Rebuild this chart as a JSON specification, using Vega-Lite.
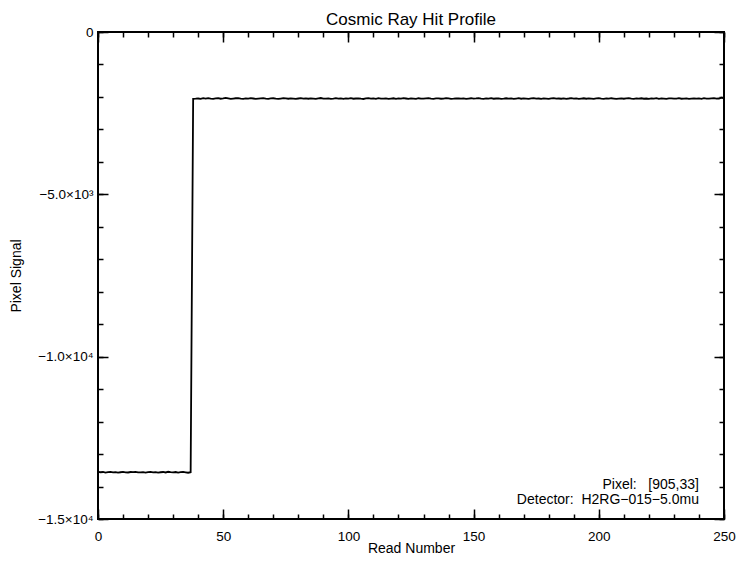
{
  "$schema": "https://vega.github.io/schema/vega-lite/v6.json",
  "width": 626,
  "height": 487,
  "autosize": "none",
  "padding": {"left": 98, "top": 32, "right": 14, "bottom": 42},
  "background": "white",
  "title": {"text": "Cosmic Ray Hit Profile", "fontSize": 17, "font": "Liberation Sans", "fontWeight": "normal", "offset": -4, "color": "black"},
  "datasets": {
    "sig": [
      {"r":0,"s":-13545},{"r":1,"s":-13560},{"r":2,"s":-13552},{"r":3,"s":-13570},{"r":4,"s":-13558},{"r":5,"s":-13548},{"r":6,"s":-13565},{"r":7,"s":-13555},{"r":8,"s":-13572},{"r":9,"s":-13560},
      {"r":10,"s":-13550},{"r":11,"s":-13562},{"r":12,"s":-13568},{"r":13,"s":-13553},{"r":14,"s":-13559},{"r":15,"s":-13547},{"r":16,"s":-13566},{"r":17,"s":-13561},{"r":18,"s":-13555},{"r":19,"s":-13570},
      {"r":20,"s":-13558},{"r":21,"s":-13549},{"r":22,"s":-13563},{"r":23,"s":-13556},{"r":24,"s":-13571},{"r":25,"s":-13560},{"r":26,"s":-13552},{"r":27,"s":-13567},{"r":28,"s":-13545},{"r":29,"s":-13558},
      {"r":30,"s":-13564},{"r":31,"s":-13553},{"r":32,"s":-13569},{"r":33,"s":-13557},{"r":34,"s":-13550},{"r":35,"s":-13562},{"r":36,"s":-13575},{"r":37,"s":-13560},
      {"r":38,"s":-2060},{"r":39,"s":-2055},{"r":40,"s":-2048},{"r":41,"s":-2062},{"r":42,"s":-2040},{"r":43,"s":-2052},{"r":44,"s":-2035},{"r":45,"s":-2050},{"r":46,"s":-2058},{"r":47,"s":-2042},
      {"r":48,"s":-2038},{"r":49,"s":-2055},{"r":50,"s":-2047},{"r":51,"s":-2030},{"r":52,"s":-2045},{"r":53,"s":-2060},{"r":54,"s":-2050},{"r":55,"s":-2041},{"r":56,"s":-2036},{"r":57,"s":-2049},
      {"r":58,"s":-2057},{"r":59,"s":-2044},{"r":60,"s":-2052},{"r":61,"s":-2039},{"r":62,"s":-2048},{"r":63,"s":-2062},{"r":64,"s":-2054},{"r":65,"s":-2045},{"r":66,"s":-2035},{"r":67,"s":-2050},
      {"r":68,"s":-2058},{"r":69,"s":-2047},{"r":70,"s":-2041},{"r":71,"s":-2053},{"r":72,"s":-2060},{"r":73,"s":-2049},{"r":74,"s":-2038},{"r":75,"s":-2046},{"r":76,"s":-2055},{"r":77,"s":-2043},
      {"r":78,"s":-2050},{"r":79,"s":-2061},{"r":80,"s":-2048},{"r":81,"s":-2037},{"r":82,"s":-2052},{"r":83,"s":-2045},{"r":84,"s":-2056},{"r":85,"s":-2042},{"r":86,"s":-2051},{"r":87,"s":-2059},
      {"r":88,"s":-2046},{"r":89,"s":-2034},{"r":90,"s":-2049},{"r":91,"s":-2055},{"r":92,"s":-2043},{"r":93,"s":-2058},{"r":94,"s":-2050},{"r":95,"s":-2040},{"r":96,"s":-2053},{"r":97,"s":-2047},
      {"r":98,"s":-2060},{"r":99,"s":-2044},{"r":100,"s":-2051},{"r":101,"s":-2038},{"r":102,"s":-2056},{"r":103,"s":-2048},{"r":104,"s":-2042},{"r":105,"s":-2054},{"r":106,"s":-2063},{"r":107,"s":-2047},
      {"r":108,"s":-2039},{"r":109,"s":-2052},{"r":110,"s":-2045},{"r":111,"s":-2058},{"r":112,"s":-2036},{"r":113,"s":-2049},{"r":114,"s":-2055},{"r":115,"s":-2043},{"r":116,"s":-2060},{"r":117,"s":-2050},
      {"r":118,"s":-2041},{"r":119,"s":-2057},{"r":120,"s":-2046},{"r":121,"s":-2053},{"r":122,"s":-2035},{"r":123,"s":-2048},{"r":124,"s":-2062},{"r":125,"s":-2044},{"r":126,"s":-2051},{"r":127,"s":-2057},
      {"r":128,"s":-2040},{"r":129,"s":-2049},{"r":130,"s":-2055},{"r":131,"s":-2045},{"r":132,"s":-2038},{"r":133,"s":-2052},{"r":134,"s":-2059},{"r":135,"s":-2047},{"r":136,"s":-2043},{"r":137,"s":-2056},
      {"r":138,"s":-2050},{"r":139,"s":-2037},{"r":140,"s":-2046},{"r":141,"s":-2061},{"r":142,"s":-2053},{"r":143,"s":-2042},{"r":144,"s":-2048},{"r":145,"s":-2055},{"r":146,"s":-2044},{"r":147,"s":-2058},
      {"r":148,"s":-2049},{"r":149,"s":-2040},{"r":150,"s":-2054},{"r":151,"s":-2047},{"r":152,"s":-2035},{"r":153,"s":-2051},{"r":154,"s":-2060},{"r":155,"s":-2045},{"r":156,"s":-2052},{"r":157,"s":-2039},
      {"r":158,"s":-2056},{"r":159,"s":-2048},{"r":160,"s":-2043},{"r":161,"s":-2057},{"r":162,"s":-2050},{"r":163,"s":-2041},{"r":164,"s":-2053},{"r":165,"s":-2046},{"r":166,"s":-2062},{"r":167,"s":-2049},
      {"r":168,"s":-2038},{"r":169,"s":-2055},{"r":170,"s":-2044},{"r":171,"s":-2051},{"r":172,"s":-2059},{"r":173,"s":-2047},{"r":174,"s":-2040},{"r":175,"s":-2054},{"r":176,"s":-2048},{"r":177,"s":-2057},
      {"r":178,"s":-2043},{"r":179,"s":-2050},{"r":180,"s":-2061},{"r":181,"s":-2046},{"r":182,"s":-2039},{"r":183,"s":-2053},{"r":184,"s":-2049},{"r":185,"s":-2056},{"r":186,"s":-2042},{"r":187,"s":-2058},
      {"r":188,"s":-2048},{"r":189,"s":-2036},{"r":190,"s":-2052},{"r":191,"s":-2045},{"r":192,"s":-2060},{"r":193,"s":-2050},{"r":194,"s":-2041},{"r":195,"s":-2055},{"r":196,"s":-2047},{"r":197,"s":-2053},
      {"r":198,"s":-2059},{"r":199,"s":-2044},{"r":200,"s":-2038},{"r":201,"s":-2051},{"r":202,"s":-2057},{"r":203,"s":-2046},{"r":204,"s":-2054},{"r":205,"s":-2040},{"r":206,"s":-2049},{"r":207,"s":-2062},
      {"r":208,"s":-2052},{"r":209,"s":-2043},{"r":210,"s":-2056},{"r":211,"s":-2047},{"r":212,"s":-2037},{"r":213,"s":-2050},{"r":214,"s":-2058},{"r":215,"s":-2045},{"r":216,"s":-2053},{"r":217,"s":-2041},
      {"r":218,"s":-2055},{"r":219,"s":-2048},{"r":220,"s":-2061},{"r":221,"s":-2044},{"r":222,"s":-2050},{"r":223,"s":-2039},{"r":224,"s":-2057},{"r":225,"s":-2046},{"r":226,"s":-2052},{"r":227,"s":-2059},
      {"r":228,"s":-2047},{"r":229,"s":-2042},{"r":230,"s":-2054},{"r":231,"s":-2050},{"r":232,"s":-2038},{"r":233,"s":-2056},{"r":234,"s":-2049},{"r":235,"s":-2045},{"r":236,"s":-2060},{"r":237,"s":-2051},
      {"r":238,"s":-2043},{"r":239,"s":-2053},{"r":240,"s":-2047},{"r":241,"s":-2058},{"r":242,"s":-2040},{"r":243,"s":-2050},{"r":244,"s":-2055},{"r":245,"s":-2044},{"r":246,"s":-2036},{"r":247,"s":-2052},
      {"r":248,"s":-2048},{"r":249,"s":-2025},{"r":250,"s":-2035}
    ],
    "notes": [
      {"x": 240, "y": -14075, "t": "Pixel:\u00a0\u00a0\u00a0[905,33]"},
      {"x": 240, "y": -14537, "t": "Detector:\u00a0\u00a0H2RG\u2212015\u22125.0mu"}
    ]
  },
  "config": {
    "view": {"stroke": "black", "strokeWidth": 2},
    "axis": {
      "domain": false, "grid": false,
      "tickColor": "black", "labelColor": "black", "titleColor": "black",
      "labelFont": "Liberation Sans", "titleFont": "Liberation Sans",
      "labelFontSize": 13.5, "titleFontSize": 14, "titleFontWeight": "normal",
      "tickWidth": 1.5, "labelFlush": false, "labelOverlap": false
    }
  },
  "layer": [
    {
      "data": {"name": "sig"},
      "mark": {"type": "line", "opacity": 0},
      "encoding": {
        "x": {"field": "r", "type": "quantitative", "scale": {"domain": [0, 250], "nice": false, "zero": false},
              "axis": {"orient": "bottom", "values": [0,10,20,30,40,50,60,70,80,90,100,110,120,130,140,150,160,170,180,190,200,210,220,230,240,250], "tickSize": -5, "labels": false, "title": null}},
        "y": {"field": "s", "type": "quantitative", "scale": {"domain": [-15000, 0], "nice": false, "zero": false},
              "axis": {"orient": "left", "values": [-15000,-14000,-13000,-12000,-11000,-10000,-9000,-8000,-7000,-6000,-5000,-4000,-3000,-2000,-1000,0], "tickSize": -5, "labels": false, "title": null}}
      }
    },
    {
      "data": {"name": "sig"},
      "mark": {"type": "line", "opacity": 0},
      "encoding": {
        "x": {"field": "r", "type": "quantitative", "scale": {"domain": [0, 250], "nice": false, "zero": false},
              "axis": {"orient": "top", "values": [0,10,20,30,40,50,60,70,80,90,100,110,120,130,140,150,160,170,180,190,200,210,220,230,240,250], "tickSize": -5, "labels": false, "title": null}},
        "y": {"field": "s", "type": "quantitative", "scale": {"domain": [-15000, 0], "nice": false, "zero": false},
              "axis": {"orient": "right", "values": [-15000,-14000,-13000,-12000,-11000,-10000,-9000,-8000,-7000,-6000,-5000,-4000,-3000,-2000,-1000,0], "tickSize": -5, "labels": false, "title": null}}
      }
    },
    {
      "data": {"name": "sig"},
      "mark": {"type": "line", "opacity": 0},
      "encoding": {
        "x": {"field": "r", "type": "quantitative", "scale": {"domain": [0, 250], "nice": false, "zero": false},
              "axis": {"orient": "top", "values": [0,50,100,150,200,250], "tickSize": -10, "labels": false, "title": null}},
        "y": {"field": "s", "type": "quantitative", "scale": {"domain": [-15000, 0], "nice": false, "zero": false},
              "axis": {"orient": "right", "values": [-15000,-10000,-5000,0], "tickSize": -10, "labels": false, "title": null}}
      }
    },
    {
      "data": {"name": "notes"},
      "mark": {"type": "text", "align": "right", "baseline": "alphabetic", "font": "Liberation Sans", "fontSize": 14, "color": "black"},
      "encoding": {
        "x": {"field": "x", "type": "quantitative", "scale": {"domain": [0, 250], "nice": false, "zero": false}, "axis": null},
        "y": {"field": "y", "type": "quantitative", "scale": {"domain": [-15000, 0], "nice": false, "zero": false}, "axis": null},
        "text": {"field": "t"}
      }
    },
    {
      "data": {"name": "sig"},
      "mark": {"type": "line", "color": "black", "strokeWidth": 1.8},
      "encoding": {
        "x": {"field": "r", "type": "quantitative", "scale": {"domain": [0, 250], "nice": false, "zero": false},
              "axis": {"orient": "bottom", "values": [0,50,100,150,200,250], "tickSize": -10, "labelPadding": 20, "format": "d", "title": "Read Number", "titlePadding": -1}},
        "y": {"field": "s", "type": "quantitative", "scale": {"domain": [-15000, 0], "nice": false, "zero": false},
              "axis": {"orient": "left", "values": [-15000,-10000,-5000,0], "tickSize": -10, "labelPadding": 15,
                       "labelExpr": "datum.value == 0 ? '0' : datum.value == -5000 ? '\u22125.0\u00d710\u00b3' : datum.value == -10000 ? '\u22121.0\u00d710\u2074' : '\u22121.5\u00d710\u2074'",
                       "title": "Pixel Signal", "titlePadding": 14}}
      }
    }
  ],
  "resolve": {"scale": {"x": "independent", "y": "independent"}, "axis": {"x": "independent", "y": "independent"}}
}
